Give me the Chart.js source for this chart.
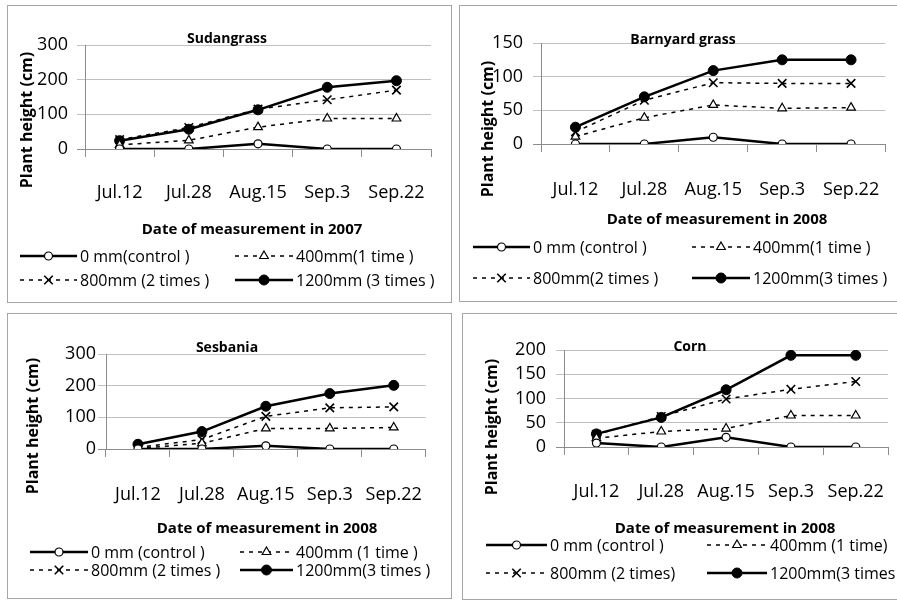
<!DOCTYPE html>
<html>
<head>
<meta charset="utf-8">
<title>Plant height</title>
<script src="https://cdn.jsdelivr.net/npm/chart.js@4.4.1/dist/chart.umd.min.js"></script>
<style>
  html, body { margin: 0; padding: 0; overflow: hidden; background: #fff; }
  body { width: 897px; height: 601px; position: relative; font-family: 'Open Sans', sans-serif; }
  .panel { position: absolute; border: 1px solid #a6a6a6; box-sizing: border-box; background: #fff; }
  .panel canvas { position: absolute; left: 0; top: 0; }
  .lg { position: absolute; height: 22px; display: flex; align-items: center; font-size: 16px; color: #000; white-space: nowrap; }
  .lg svg { display: block; margin-right: 3px; }
</style>
</head>
<body>
<div class="panel" id="box1" style="left:7px;top:5px;width:445px;height:298px"><canvas id="c1" width="443" height="296"></canvas></div>
<div class="panel" id="box2" style="left:459px;top:5px;width:450px;height:297px"><canvas id="c2" width="448" height="295"></canvas></div>
<div class="panel" id="box3" style="left:7px;top:313px;width:445px;height:286px"><canvas id="c3" width="443" height="284"></canvas></div>
<div class="panel" id="box4" style="left:462px;top:313px;width:450px;height:287px"><canvas id="c4" width="448" height="285"></canvas></div>

<script>
// --- data ---
const dates = ['Jul.12', 'Jul.28', 'Aug.15', 'Sep.3', 'Sep.22'];

const sudanControl = [0, 0, 15, 0, 0];
const sudan400 = [12, 25, 63, 88, 88];
const sudan800 = [27, 62, 115, 142, 170];
const sudan1200 = [24, 57, 113, 178, 197];
const sudanTicks = [0, 100, 200, 300];
const sudanLegend = ['0 mm(control )', '400mm(1 time )', '800mm (2 times )', '1200mm (3 times )'];

const barnControl = [0, 0, 10, 0, 0];
const barn400 = [11, 39, 58, 53, 54];
const barn800 = [18, 65, 91, 90, 90];
const barn1200 = [25, 70, 109, 125, 125];
const barnTicks = [0, 50, 100, 150];
const barnLegend = ['0 mm (control )', '400mm(1 time )', '800mm(2 times )', '1200mm(3 times )'];

const sesbControl = [0, 0, 10, 0, 0];
const sesb400 = [2, 18, 65, 65, 68];
const sesb800 = [5, 30, 103, 130, 133];
const sesb1200 = [15, 55, 135, 175, 201];
const sesbTicks = [0, 100, 200, 300];
const sesbLegend = ['0 mm (control )', '400mm (1 time )', '800mm (2 times )', '1200mm(3 times )'];

const cornControl = [8, 0, 20, 0, 0];
const corn400 = [18, 32, 38, 65, 65];
const corn800 = [26, 63, 99, 119, 135];
const corn1200 = [27, 61, 118, 189, 189];
const cornTicks = [0, 50, 100, 150, 200];
const cornLegend = ['0 mm  (control )', '400mm (1 time)', '800mm (2 times)', '1200mm(3 times )'];

// --- styles ---
const AXIS = '#8c8c8c';
const GRID = '#c0c0c0';
Chart.defaults.font.family = "'Open Sans', sans-serif";
Chart.defaults.color = '#000';

// control, 400mm, 800mm, 1200mm
const seriesStyles = [
    { borderWidth: 2.5, borderDash: [], pointStyle: 'circle', pointRadius: 4, pointBackgroundColor: '#fff', pointBorderWidth: 1.2 },
    { borderWidth: 1.5, borderDash: [4, 5], pointStyle: 'triangle', pointRadius: 5, pointBackgroundColor: '#fff', pointBorderWidth: 1.2 },
    { borderWidth: 1.5, borderDash: [4, 5], pointStyle: 'crossRot', pointRadius: 6, pointBackgroundColor: '#000', pointBorderWidth: 1.6 },
    { borderWidth: 2.5, borderDash: [], pointStyle: 'circle', pointRadius: 5, pointBackgroundColor: '#000', pointBorderWidth: 1 }
];

// titles drawn at fixed spots like the Excel original
const panelText = {
    id: 'panelText',
    afterDraw(chart, args, o) {
        const ctx = chart.ctx;
        ctx.save();
        ctx.fillStyle = '#000';
        ctx.textAlign = 'center';
        ctx.textBaseline = 'middle';
        ctx.font = "bold 14px 'Open Sans'";
        ctx.fillText(o.title, o.titleAt[0], o.titleAt[1]);
        ctx.font = "bold 15px 'Open Sans'";
        ctx.fillText(o.xTitle, o.xTitleAt[0], o.xTitleAt[1]);
        ctx.translate(o.yTitleAt[0], o.yTitleAt[1]);
        ctx.rotate(-Math.PI / 2);
        ctx.font = "bold 16px 'Open Sans'";
        ctx.fillText(o.yTitle, 0, 0);
        ctx.restore();
    }
};

function sampleSvg(ds, w) {
    const cy = 8, cx = w / 2, r = ds.pointRadius;
    const dash = ds.borderDash.length ? ` stroke-dasharray="${ds.borderDash.join(' ')}"` : '';
    let s = `<svg width="${w}" height="16">`;
    s += `<line x1="0" y1="${cy}" x2="${w}" y2="${cy}" stroke="#000" stroke-width="${ds.borderWidth}"${dash}/>`;
    if (ds.pointStyle === 'circle') {
        s += `<circle cx="${cx}" cy="${cy}" r="${r}" fill="${ds.pointBackgroundColor}" stroke="#000" stroke-width="${ds.pointBorderWidth}"/>`;
    } else if (ds.pointStyle === 'triangle') {
        const hw = r * 0.866;
        s += `<polygon points="${cx},${cy - r} ${cx + hw},${cy + r / 2} ${cx - hw},${cy + r / 2}" fill="#fff" stroke="#000" stroke-width="${ds.pointBorderWidth}"/>`;
    } else if (ds.pointStyle === 'crossRot') {
        const d = r * 0.7071;
        s += `<path d="M${cx - d},${cy - d}L${cx + d},${cy + d}M${cx + d},${cy - d}L${cx - d},${cy + d}" stroke="#000" stroke-width="${ds.pointBorderWidth}"/>`;
    }
    return s + '</svg>';
}

function buildLegend(chart, box, lg) {
    chart.data.datasets.forEach((ds, i) => {
        const col = lg.cols[i % 2];
        const row = lg.rows[Math.floor(i / 2)];
        const el = document.createElement('div');
        el.className = 'lg';
        el.style.left = col[0] + 'px';
        el.style.top = (row - 11) + 'px';
        el.innerHTML = sampleSvg(ds, col[1]) + '<span></span>';
        el.querySelector('span').textContent = ds.label;
        box.appendChild(el);
    });
}

function buildPanel(p) {
    const canvas = document.getElementById(p.canvas);
    const w = canvas.width, h = canvas.height;
    const [L, T, R, B] = p.area;
    const ticks = p.ticks;

    const chart = new Chart(canvas, {
        type: 'line',
        data: {
            labels: dates,
            datasets: p.series.map((values, i) => Object.assign({
                label: p.legend[i],
                data: values,
                borderColor: '#000',
                pointBorderColor: '#000',
                tension: 0,
                fill: false
            }, seriesStyles[i]))
        },
        options: {
            responsive: false,
            animation: false,
            layout: { padding: { left: 0, top: T, right: w - R, bottom: 0 } },
            plugins: {
                legend: { display: false },
                tooltip: { enabled: false },
                panelText: p.text
            },
            scales: {
                x: {
                    offset: true,
                    grid: { offset: true, drawOnChartArea: false, tickLength: 8, color: AXIS },
                    border: { color: AXIS },
                    ticks: { padding: p.xPad, font: { size: 18 }, maxRotation: 0, autoSkip: false },
                    afterFit: (s) => { s.height = h - B; }
                },
                y: {
                    min: ticks[0],
                    max: ticks[ticks.length - 1],
                    afterBuildTicks: (s) => { s.ticks = ticks.map(v => ({ value: v })); },
                    ticks: { padding: p.yPad, font: { size: 18 }, autoSkip: false },
                    grid: { tickLength: 8, color: (c) => (c.tick && c.tick.value === 0 ? AXIS : GRID) },
                    border: { color: AXIS },
                    afterFit: (s) => { s.width = L; }
                }
            }
        },
        plugins: [panelText]
    });
    buildLegend(chart, document.getElementById(p.box), p.lg);
}

buildPanel({
    canvas: 'c1', box: 'box1',
    series: [sudanControl, sudan400, sudan800, sudan1200], ticks: sudanTicks, legend: sudanLegend,
    area: [77, 39, 429, 143], xPad: 25, yPad: 9,
    text: { title: 'Sudangrass', titleAt: [219, 33], xTitle: 'Date of measurement in 2007', xTitleAt: [244, 224], yTitle: 'Plant height (cm)', yTitleAt: [19, 114] },
    lg: { rows: [250, 274], cols: [[12, 57], [227, 58]] }
});

buildPanel({
    canvas: 'c2', box: 'box2',
    series: [barnControl, barn400, barn800, barn1200], ticks: barnTicks, legend: barnLegend,
    area: [81, 37, 430, 138], xPad: 27, yPad: 10,
    text: { title: 'Barnyard grass', titleAt: [223, 34], xTitle: 'Date of measurement in 2008', xTitleAt: [257, 214], yTitle: 'Plant height (cm)', yTitleAt: [28, 123] },
    lg: { rows: [241, 272], cols: [[13, 57], [232, 58]] }
});

buildPanel({
    canvas: 'c3', box: 'box3',
    series: [sesbControl, sesb400, sesb800, sesb1200], ticks: sesbTicks, legend: sesbLegend,
    area: [98, 40, 422, 135], xPad: 27, yPad: 2,
    text: { title: 'Sesbania', titleAt: [219, 34], xTitle: 'Date of measurement in 2008', xTitleAt: [259, 215], yTitle: 'Plant height (cm)', yTitleAt: [25, 112] },
    lg: { rows: [238, 256], cols: [[22, 58], [232, 53]] }
});

buildPanel({
    canvas: 'c4', box: 'box4',
    series: [cornControl, corn400, corn800, corn1200], ticks: cornTicks, legend: cornLegend,
    area: [101, 36, 437, 133], xPad: 26, yPad: 10,
    text: { title: 'Corn', titleAt: [227, 33], xTitle: 'Date of measurement in 2008', xTitleAt: [262, 215], yTitle: 'Plant height (cm)', yTitleAt: [29, 113] },
    lg: { rows: [231, 259], cols: [[23, 61], [244, 60]] }
});
</script>
</body>
</html>
